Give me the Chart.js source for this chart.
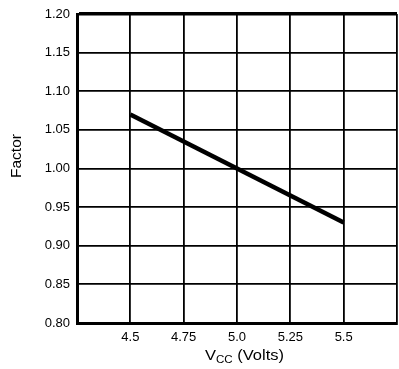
<!DOCTYPE html>
<html><head><meta charset="utf-8">
<script src="https://cdn.jsdelivr.net/npm/chart.js@4.4.1/dist/chart.umd.min.js"></script>
<style>html,body{margin:0;padding:0;background:#fff;overflow:hidden}</style>
</head><body>
<canvas id="c" width="399" height="369"></canvas>
<script>
const vccVolts = [4.5, 5.0, 5.5];
const factorValues = [1.07, 1.00, 0.93];
const xGridValues = [4.25, 4.5, 4.75, 5.0, 5.25, 5.5, 5.75];
const xTickLabels = ['', '4.5', '4.75', '5.0', '5.25', '5.5', ''];
const yGridValues = [0.80, 0.85, 0.90, 0.95, 1.00, 1.05, 1.10, 1.15, 1.20];
const yTickLabels = ['0.80', '0.85', '0.90', '0.95', '1.00', '1.05', '1.10', '1.15', '1.20'];
const yAxisTitle = 'Factor';
const xAxisTitleMain = 'V';
const xAxisTitleSub = 'CC';
const xAxisTitleRest = ' (Volts)';

const FONT = '"Liberation Sans", Arial, Helvetica, sans-serif';

const titlePlugin = {
  id: 'titles',
  afterDraw(chart) {
    const ctx = chart.ctx;
    ctx.save();
    ctx.fillStyle = '#000';
    ctx.textBaseline = 'alphabetic';
    ctx.textAlign = 'left';
    ctx.translate(205, 360);
    ctx.scale(1.1, 1);
    let x = 0;
    ctx.font = '15px ' + FONT;
    ctx.fillText(xAxisTitleMain, x, 0);
    x += ctx.measureText(xAxisTitleMain).width;
    ctx.font = '10.5px ' + FONT;
    ctx.fillText(xAxisTitleSub, x, 3);
    x += ctx.measureText(xAxisTitleSub).width;
    ctx.font = '15px ' + FONT;
    ctx.fillText(xAxisTitleRest, x, 0);
    ctx.restore();
    ctx.save();
    ctx.fillStyle = '#000';
    ctx.font = '15.5px ' + FONT;
    ctx.translate(21, 156);
    ctx.rotate(-Math.PI / 2);
    ctx.textAlign = 'center';
    ctx.textBaseline = 'alphabetic';
    ctx.fillText(yAxisTitle, 0, 0);
    ctx.restore();
  }
};

new Chart(document.getElementById('c'), {
  type: 'line',
  data: {
    datasets: [{
      data: vccVolts.map((v, i) => ({ x: v, y: factorValues[i] })),
      borderColor: '#000',
      borderWidth: 4.5,
      pointRadius: 0,
      tension: 0,
      fill: false
    }]
  },
  options: {
    responsive: false,
    animation: false,
    devicePixelRatio: 1,
    layout: { padding: { left: 0, top: 14, right: 2, bottom: 0 } },
    plugins: { legend: { display: false }, tooltip: { enabled: false } },
    scales: {
      x: {
        type: 'linear',
        min: xGridValues[0],
        max: xGridValues[xGridValues.length - 1],
        afterBuildTicks: s => { s.ticks = xGridValues.map(v => ({ value: v })); },
        afterFit: s => { s.height = 46; s.paddingLeft = 0; s.paddingRight = 0; },
        ticks: {
          color: '#000',
          font: { family: FONT, size: 13 },
          padding: 7,
          maxRotation: 0,
          autoSkip: false,
          callback: (v) => { const i = xGridValues.findIndex(g => Math.abs(g - v) < 1e-6); return i >= 0 ? xTickLabels[i] : ''; }
        },
        grid: {
          color: '#000',
          lineWidth: 1.8,
          drawTicks: false
        },
        border: { display: true, color: '#000', width: 3 }
      },
      y: {
        type: 'linear',
        min: yGridValues[0],
        max: yGridValues[yGridValues.length - 1],
        afterBuildTicks: s => { s.ticks = yGridValues.map(v => ({ value: v })); },
        afterFit: s => { s.width = 77; s.paddingTop = 0; s.paddingBottom = 0; },
        ticks: {
          color: '#000',
          font: { family: FONT, size: 13 },
          padding: 7,
          autoSkip: false,
          callback: (v) => { const i = yGridValues.findIndex(g => Math.abs(g - v) < 1e-6); return i >= 0 ? yTickLabels[i] : ''; }
        },
        grid: {
          color: '#000',
          lineWidth: (c) => (c.tick && Math.abs(c.tick.value - 1.2) < 1e-6 ? 3.5 : 1.8),
          drawTicks: false
        },
        border: { display: true, color: '#000', width: 3 }
      }
    }
  },
  plugins: [titlePlugin]
});
</script>
</body></html>
